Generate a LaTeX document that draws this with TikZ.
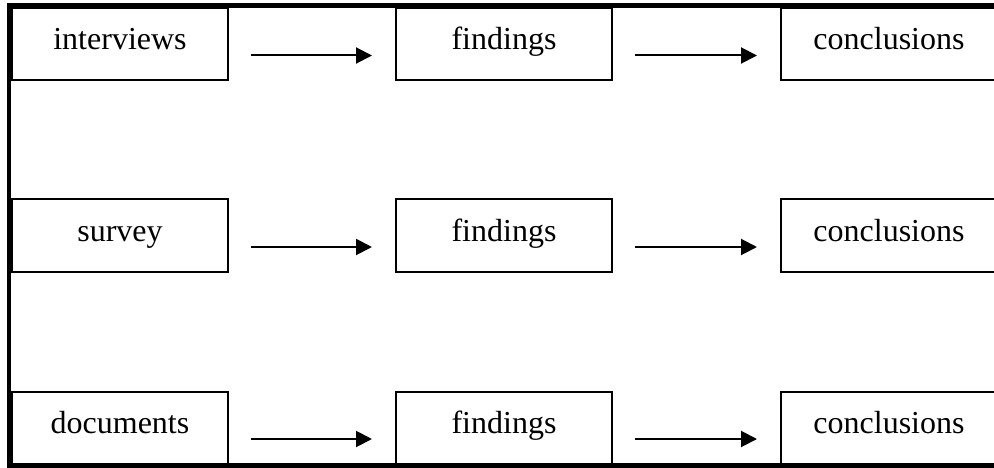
\documentclass[tikz,border=0pt]{standalone}
\usepackage{fontspec}
\setmainfont{Liberation Serif}
\usetikzlibrary{arrows.meta}
\begin{document}
\begin{tikzpicture}[x=1pt,y={(0pt,-1pt)},
  stagebox/.style={draw, line width=2pt, minimum width=216pt, minimum height=72pt,
    inner sep=0pt, outer sep=0pt, text height=22pt, text depth=11pt,
    font=\fontsize{32}{38}\selectfont},
  flow/.style={line width=2pt, -{Triangle[length=16pt,width=16pt]}},
  frame/.style={line width=4.5pt}]
\useasboundingbox (0,0) rectangle (994,468);
% outer frame: left, top and bottom rules
\draw[frame] (9,3) -- (9,468);
\draw[frame] (7,5.5) -- (1000,5.5);
\draw[frame] (7,465.5) -- (1000,465.5);
% row 1
\node[stagebox] (i)  at (120,44) {interviews};
\node[stagebox] (f1) at (504,44) {findings};
\node[stagebox] (c1) at (889,44) {conclusions};
% row 2
\node[stagebox] (s)  at (120,235.5) {survey};
\node[stagebox] (f2) at (504,235.5) {findings};
\node[stagebox] (c2) at (889,235.5) {conclusions};
% row 3
\node[stagebox] (d)  at (120,427.5) {documents};
\node[stagebox] (f3) at (504,427.5) {findings};
\node[stagebox] (c3) at (889,427.5) {conclusions};
% arrows
\foreach \a/\b in {i/f1,f1/c1,s/f2,f2/c2,d/f3,f3/c3}
  \draw[flow] ([xshift=23pt,yshift=-11.5pt]\a.east) -- ([xshift=-24pt,yshift=-11.5pt]\b.west);
\end{tikzpicture}
\end{document}
